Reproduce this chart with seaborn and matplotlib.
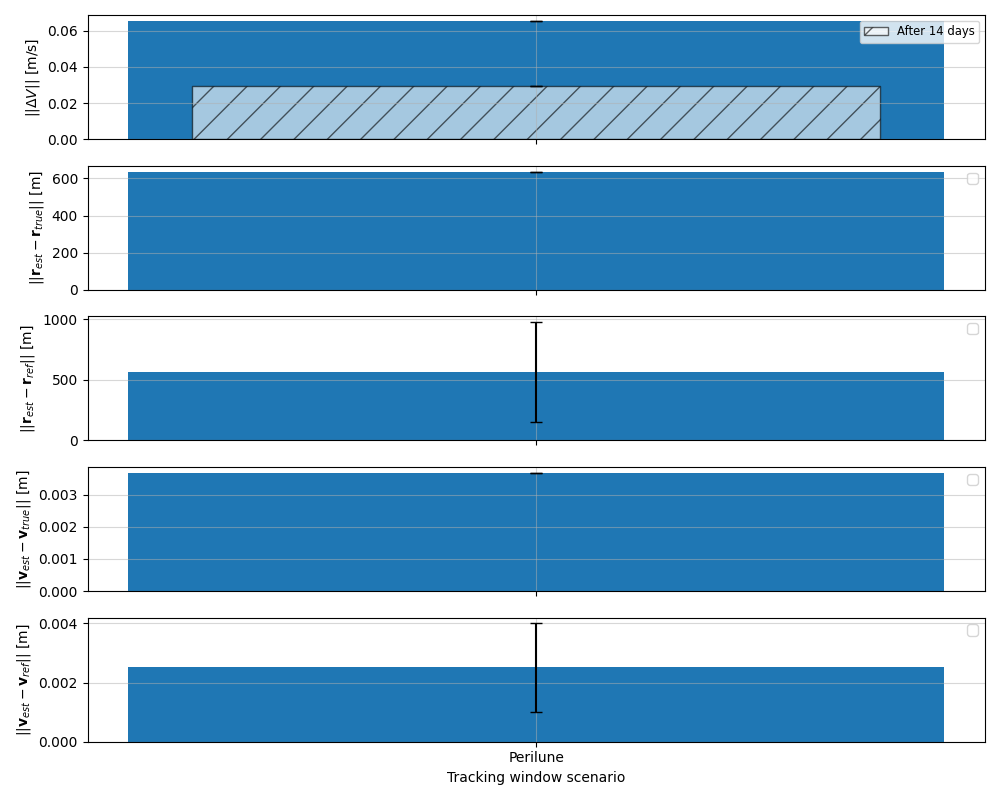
import numpy as np
import pandas as pd
import matplotlib
matplotlib.use('Agg')
import matplotlib.pyplot as plt
import seaborn as sns

# values
scenarios = ['Perilune']

dv_total = [0.0655]
dv_14days = [0.0297]
r_true_err = [637.0]
r_ref_err = [566.0]
r_ref_lo = [156.0]
r_ref_hi = [976.0]
v_true_err = [0.00368]
v_ref_err = [0.00254]
v_ref_lo = [0.00101]
v_ref_hi = [0.00400]

ylabels = [r'$||\Delta V||$ [m/s]',
           r'$||\mathbf{r}_{est} - \mathbf{r}_{true}||$ [m]',
           r'$||\mathbf{r}_{est} - \mathbf{r}_{ref}||$ [m]',
           r'$||\mathbf{v}_{est} - \mathbf{v}_{true}||$ [m]',
           r'$||\mathbf{v}_{est} - \mathbf{v}_{ref}||$ [m]']


def bar_with_err(ax, vals, lo, hi, **kws):
    df = pd.DataFrame({'scenario': scenarios, 'val': vals})
    sns.barplot(df, x='scenario', y='val', ax=ax, errorbar=None, saturation=1, **kws)
    pos = np.arange(len(scenarios))
    v = np.array(vals)
    yerr = [v - np.array(lo), np.array(hi) - v]
    ax.errorbar(pos, v, yerr=yerr, fmt='none', ecolor='black', capsize=4)


fig, axes = plt.subplots(5, 1, figsize=(10, 8), sharex=True)

# delta-v, total and after 14 days
ax = axes[0]
bar_with_err(ax, dv_total, dv_total, dv_total, color='C0')
bar_with_err(ax, dv_14days, dv_14days, dv_14days, color='white', alpha=0.6,
             edgecolor='black', hatch='/', width=0.675, label='After 14 days')
ax.legend(loc='upper right', fontsize='small')

bar_with_err(axes[1], r_true_err, r_true_err, r_true_err, color='C0')
bar_with_err(axes[2], r_ref_err, r_ref_lo, r_ref_hi, color='C0')
bar_with_err(axes[3], v_true_err, v_true_err, v_true_err, color='C0')
bar_with_err(axes[4], v_ref_err, v_ref_lo, v_ref_hi, color='C0')

for i, ax in enumerate(axes):
    ax.set_ylabel(ylabels[i])
    ax.set_xlabel('')
    ax.set_xlim(-0.44, 0.44)
    ax.grid(True, alpha=0.5)
    if i > 0:
        ax.legend(loc='upper right')

axes[-1].set_xlabel('Tracking window scenario')

plt.tight_layout()
plt.savefig('out.png', dpi=100)
